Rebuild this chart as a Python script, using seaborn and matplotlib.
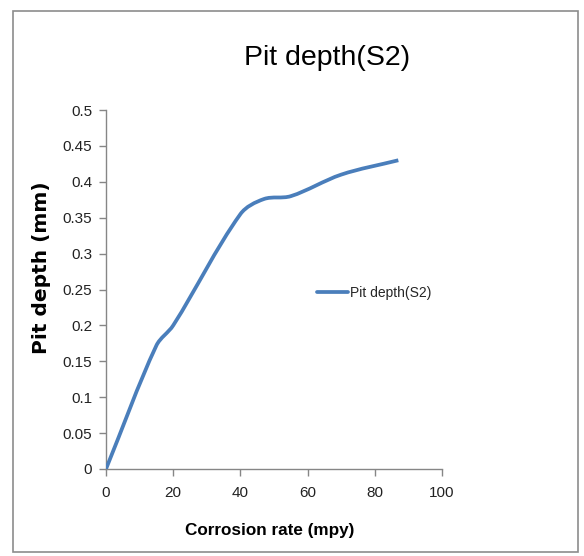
import matplotlib
matplotlib.use("Agg")
import matplotlib.pyplot as plt
from matplotlib.path import Path
from matplotlib.patches import PathPatch, Rectangle
from matplotlib.lines import Line2D
import seaborn as sns
import numpy as np
import pandas as pd

# ---- data ----
rate = [0, 15, 20, 40, 47, 55, 70, 87]
depth = [0, 0.172, 0.2, 0.355, 0.376, 0.38, 0.41, 0.43]
series_name = "Pit depth(S2)"
title = "Pit depth(S2)"
xlabel = "Corrosion rate (mpy)"
ylabel = "Pit depth (mm)"
xticks = [0, 20, 40, 60, 80, 100]
yticks = [0, 0.05, 0.1, 0.15, 0.2, 0.25, 0.3, 0.35, 0.4, 0.45, 0.5]
ytick_labels = ["0", "0.05", "0.1", "0.15", "0.2", "0.25", "0.3", "0.35", "0.4", "0.45", "0.5"]

sns.set_theme(style="white")
plt.rcParams['font.family'] = ['Liberation Sans', 'DejaVu Sans']

W, H = 584, 556
fig = plt.figure(figsize=(W / 100, H / 100), dpi=100)
ax = fig.add_axes([106 / W, 1 - 469 / H, (442 - 106) / W, (469 - 110) / H])
ax.set_xlim(0, 100)
ax.set_ylim(0, 0.5)

df = pd.DataFrame({"rate": rate, "depth": depth})
color = "#4a7ebb"
lw = 2.7

# seaborn draws the series; it is then hidden and replaced by an Excel-style smoothed path
sns.lineplot(data=df, x="rate", y="depth", ax=ax, color=color, lw=lw,
             legend=False, sort=False)
base = ax.lines[-1]
base.set_visible(False)

# smoothing computed in display-proportional space (data -> pixel scale factors)
sx = 336 / 100.0
sy = 359 / 0.5
P = np.column_stack([np.asarray(rate, float) * sx, np.asarray(depth, float) * sy])
n = len(P)
tang = []
for i in range(n):
    a = P[i - 1] if i > 0 else P[i]
    b = P[i + 1] if i < n - 1 else P[i]
    d = b - a
    tang.append(d / (np.linalg.norm(d) + 1e-12))
tension = 0.33
verts = [P[0]]
codes = [Path.MOVETO]
for i in range(n - 1):
    p1, p2 = P[i], P[i + 1]
    L = np.linalg.norm(p2 - p1)
    c1 = p1 + tang[i] * L * tension
    c2 = p2 - tang[i + 1] * L * tension
    verts += [c1, c2, p2]
    codes += [Path.CURVE4] * 3
verts = np.array(verts) / np.array([sx, sy])
ax.add_patch(PathPatch(Path(verts, codes), facecolor="none", edgecolor=color,
                       lw=lw, capstyle="butt", joinstyle="round", zorder=3))

ax.set_xticks(xticks)
ax.set_xticklabels([str(t) for t in xticks])
ax.set_yticks(yticks)
ax.set_yticklabels(ytick_labels)
for s in ["top", "right"]:
    ax.spines[s].set_visible(False)
for s in ["left", "bottom"]:
    ax.spines[s].set_color("#868686")
    ax.spines[s].set_linewidth(1.0)
ax.tick_params(axis="both", which="major", direction="out", length=5, width=1,
               color="#868686", labelsize=11, labelcolor="#222222",
               left=True, bottom=True)
ax.tick_params(axis="x", pad=7)
ax.tick_params(axis="y", pad=5)

ax.set_xlabel(xlabel, fontsize=12.3, fontweight="bold", color="black")
ax.xaxis.set_label_coords((270 - 106) / 336, -(530 - 469) / 359)
ax.xaxis.label.set_va("center")
ax.set_ylabel(ylabel, fontsize=14.5, fontweight="bold", color="black",
              family=["DejaVu Sans"])
ax.yaxis.set_label_coords((42 - 106) / 336, (469 - 268) / 359)
ax.yaxis.label.set_va("center")

fig.text(327 / W, 1 - 65 / H, title, ha="center", va="baseline", fontsize=20.5,
         color="black")

handle = Line2D([], [], color=color, lw=lw)
ax.legend([handle], [series_name], loc="center left",
          bbox_to_anchor=(0.628, 0.49), frameon=False, fontsize=10,
          handlelength=2.2, handletextpad=0.15, borderaxespad=0, borderpad=0)

fig.patches.append(Rectangle((13 / W, 1 - 552 / H), (578 - 13) / W, (552 - 11) / H,
                             transform=fig.transFigure, fill=False,
                             edgecolor="#8c8c8c", lw=1.2))

fig.savefig("out.png", dpi=100)
